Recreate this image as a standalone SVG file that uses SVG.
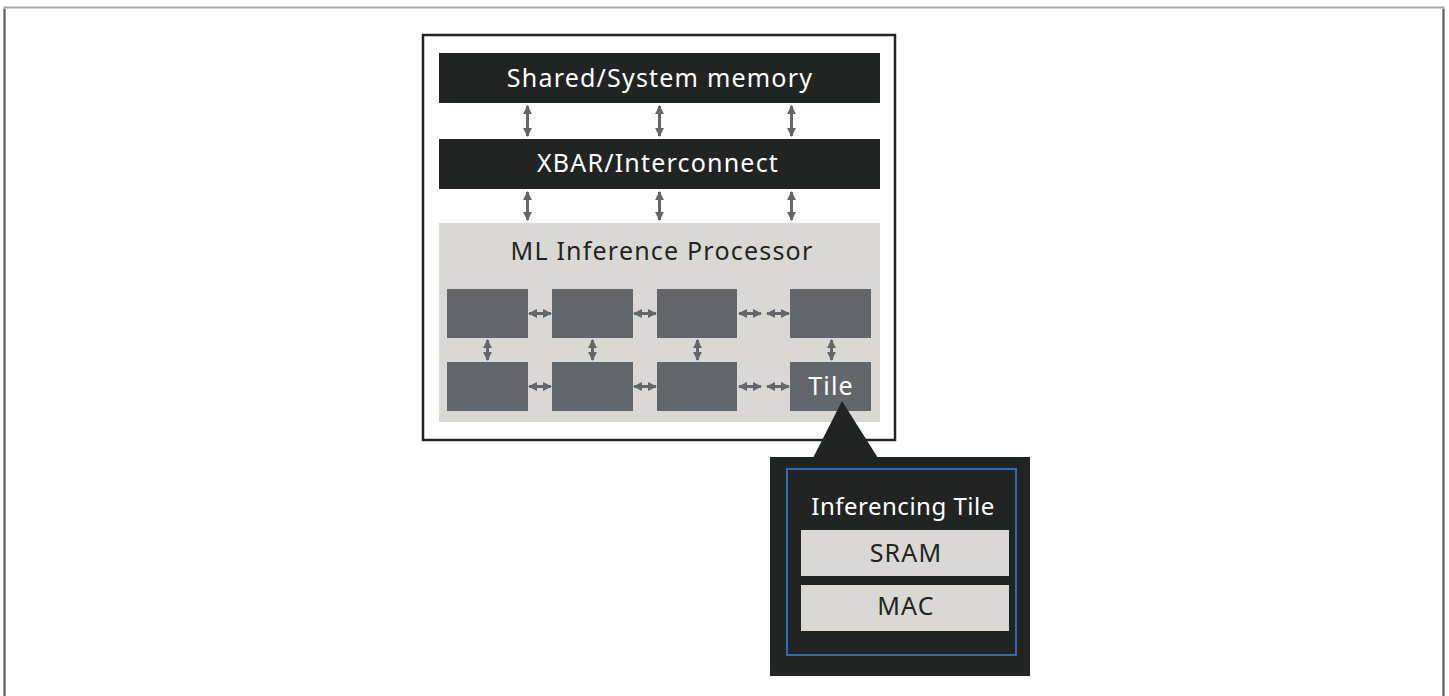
<svg xmlns="http://www.w3.org/2000/svg" width="1449" height="696" viewBox="0 0 1449 696">
<defs>
<marker id="ah" viewBox="0 0 10 10" refX="9" refY="5" markerWidth="3" markerHeight="3" orient="auto-start-reverse" markerUnits="strokeWidth">
<path d="M0,0 L10,5 L0,10 z" fill="#63666a"/>
</marker>
<style>
.bar{fill:#222423}
.lbl{font-family:"Noto Sans","Open Sans",sans-serif;font-size:25px;letter-spacing:1.2px;text-anchor:middle}
.sm{font-size:24px;letter-spacing:0.5px}
.w{fill:#ffffff}
.d{fill:#222423}
.tile{fill:#63666a}
.light{fill:#d9d8d4}
.conn line{stroke:#63666a;stroke-width:3;marker-start:url(#ah);marker-end:url(#ah)}
</style>
</defs>
<rect x="0" y="0" width="1449" height="696" fill="#ffffff"/>
<path d="M4.5,700 V7.5 H1443.5 V700" fill="none" stroke="#a7a9ac" stroke-width="2"/>
<path d="M4.5,700 V9" fill="none" stroke="#63666a" stroke-width="2"/>
<path d="M1443.5,700 V9" fill="none" stroke="#63666a" stroke-width="2"/>

<g id="outer">
<rect x="423" y="35" width="472" height="405" fill="#ffffff" stroke="#222423" stroke-width="2.5"/>
</g>
<g id="shared-memory">
<rect class="bar" x="439" y="53" width="441" height="50"/>
<text class="lbl w" x="660" y="87">Shared/System memory</text>
</g>
<g id="xbar">
<rect class="bar" x="439" y="139" width="441" height="50"/>
<text class="lbl w" x="658" y="172">XBAR/Interconnect</text>
</g>
<g id="ml-processor">
<rect class="light" x="439" y="223" width="441" height="199"/>
<text class="lbl d" x="662" y="260">ML Inference Processor</text>
</g>
<g id="tile-1-1"><rect class="tile" x="447" y="289" width="81" height="49"/></g>
<g id="tile-1-2"><rect class="tile" x="552" y="289" width="81" height="49"/></g>
<g id="tile-1-3"><rect class="tile" x="657" y="289" width="80" height="49"/></g>
<g id="tile-1-4"><rect class="tile" x="790" y="289" width="81" height="49"/></g>
<g id="tile-2-1"><rect class="tile" x="447" y="362" width="81" height="49"/></g>
<g id="tile-2-2"><rect class="tile" x="552" y="362" width="81" height="49"/></g>
<g id="tile-2-3"><rect class="tile" x="657" y="362" width="80" height="49"/></g>
<g id="tile-2-4"><rect class="tile" x="790" y="362" width="81" height="49"/>
<text class="lbl w" x="831" y="395">Tile</text></g>

<g id="callout">
<polygon points="842,401 813,458 878,458" fill="#222423"/>
<rect x="770" y="457" width="260" height="219" fill="#222423"/>
<rect x="787" y="469" width="229" height="186" fill="none" stroke="#2a6ebb" stroke-width="2"/>
<text class="lbl sm w" x="903" y="515">Inferencing Tile</text>
</g>
<g id="sram">
<rect class="light" x="801" y="530" width="208" height="46"/>
<text class="lbl d" x="906" y="562">SRAM</text>
</g>
<g id="mac">
<rect class="light" x="801" y="585" width="208" height="46"/>
<text class="lbl d" x="906" y="615">MAC</text>
</g>

<g class="conn" id="connectors">
<line x1="527.5" y1="106" x2="527.5" y2="136"/>
<line x1="659.5" y1="106" x2="659.5" y2="136"/>
<line x1="791.5" y1="106" x2="791.5" y2="136"/>
<line x1="527.5" y1="192" x2="527.5" y2="220"/>
<line x1="659.5" y1="192" x2="659.5" y2="220"/>
<line x1="791.5" y1="192" x2="791.5" y2="220"/>
<line x1="487.5" y1="340" x2="487.5" y2="360"/>
<line x1="592.5" y1="340" x2="592.5" y2="360"/>
<line x1="697.5" y1="340" x2="697.5" y2="360"/>
<line x1="831.5" y1="340" x2="831.5" y2="360"/>
<line x1="529" y1="313.5" x2="551" y2="313.5"/>
<line x1="634" y1="313.5" x2="656" y2="313.5"/>
<line x1="739" y1="313.5" x2="761" y2="313.5"/>
<line x1="767" y1="313.5" x2="789" y2="313.5"/>
<line x1="529" y1="386.5" x2="551" y2="386.5"/>
<line x1="634" y1="386.5" x2="656" y2="386.5"/>
<line x1="739" y1="386.5" x2="761" y2="386.5"/>
<line x1="767" y1="386.5" x2="789" y2="386.5"/>
</g>
</svg>
